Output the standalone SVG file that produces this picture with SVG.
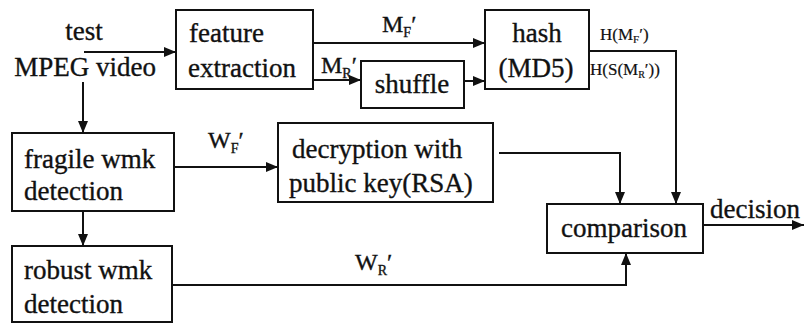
<svg xmlns="http://www.w3.org/2000/svg" width="804" height="324" viewBox="0 0 804 324">
  <style>
    .box { fill: #fff; stroke: #111; stroke-width: 2; }
    .line { fill: none; stroke: #111; stroke-width: 2; }
    text { font-family: "Liberation Serif", "Times New Roman", serif; fill: #111; stroke: #111; stroke-width: 0.35; }
    .t { font-size: 27px; }
    .lbl { font-size: 24px; }
    .sm { font-size: 17px; stroke-width: 0.2; }
    .sub { font-size: 14px; }
  </style>
  <defs>
    <marker id="arr" viewBox="0 0 12 10" refX="12" refY="5" markerWidth="12" markerHeight="10" markerUnits="userSpaceOnUse" orient="auto">
      <path d="M0,0 L12,5 L0,10 Z" fill="#111"/>
    </marker>
  </defs>

  <g id="input">
    <text class="t" x="84" y="40" text-anchor="middle">test</text>
    <text class="t" x="85" y="76" text-anchor="middle">MPEG video</text>
  </g>

  <g id="feature">
    <rect class="box" x="176" y="10" width="137" height="79"/>
    <text class="t" x="189" y="42">feature</text>
    <text class="t" x="188" y="77">extraction</text>
  </g>

  <g id="shuffle">
    <rect class="box" x="361" y="61" width="103" height="47"/>
    <text class="t" x="412" y="93" text-anchor="middle">shuffle</text>
  </g>

  <g id="hash">
    <rect class="box" x="485" y="10" width="104" height="79"/>
    <text class="t" x="537" y="42" text-anchor="middle">hash</text>
    <text class="t" x="536" y="77" text-anchor="middle">(MD5)</text>
  </g>

  <g id="fragile">
    <rect class="box" x="12" y="133" width="162" height="78"/>
    <text class="t" x="24" y="168">fragile wmk</text>
    <text class="t" x="24" y="200">detection</text>
  </g>

  <g id="robust">
    <rect class="box" x="12" y="246" width="160" height="76"/>
    <text class="t" x="24" y="279">robust wmk</text>
    <text class="t" x="24" y="313">detection</text>
  </g>

  <g id="decryption">
    <rect class="box" x="278" y="123" width="215" height="79"/>
    <text class="t" x="292" y="158">decryption with</text>
    <text class="t" x="289" y="192">public key(RSA)</text>
  </g>

  <g id="comparison">
    <rect class="box" x="547" y="204" width="156" height="49"/>
    <text class="t" x="624" y="237" text-anchor="middle">comparison</text>
  </g>

  <g id="connectors">
    <line class="line" x1="84" y1="52" x2="176" y2="52" marker-end="url(#arr)"/>
    <line class="line" x1="83" y1="82" x2="83" y2="133" marker-end="url(#arr)"/>
    <line class="line" x1="313" y1="43" x2="485" y2="43" marker-end="url(#arr)"/>
    <line class="line" x1="313" y1="80" x2="361" y2="80" marker-end="url(#arr)"/>
    <line class="line" x1="464" y1="81" x2="485" y2="81" marker-end="url(#arr)"/>
    <polyline class="line" points="589,51 676,51 676,204" marker-end="url(#arr)"/>
    <line class="line" x1="174" y1="167" x2="278" y2="167" marker-end="url(#arr)"/>
    <polyline class="line" points="499,153 620,153 620,204" marker-end="url(#arr)"/>
    <line class="line" x1="83" y1="211" x2="83" y2="246" marker-end="url(#arr)"/>
    <polyline class="line" points="172,285 626,285 626,253" marker-end="url(#arr)"/>
    <line class="line" x1="703" y1="225" x2="804" y2="225" marker-end="url(#arr)"/>

    <text class="lbl" x="382" y="32">M<tspan class="sub" dy="5">F</tspan><tspan dy="-5">′</tspan></text>
    <text class="lbl" x="321" y="73">M<tspan class="sub" dy="5">R</tspan><tspan dy="-5">′</tspan></text>
    <text class="lbl" x="208" y="148">W<tspan class="sub" dy="5">F</tspan><tspan dy="-5">′</tspan></text>
    <text class="lbl" x="355" y="270">W<tspan class="sub" dy="5">R</tspan><tspan dy="-5">′</tspan></text>
    <text class="sm" x="600" y="40">H(M<tspan font-size="11" dy="3">F</tspan><tspan dy="-3">′)</tspan></text>
    <text class="sm" x="590" y="75" font-size="15">H(S(M<tspan font-size="10" dy="3">R</tspan><tspan dy="-3">′))</tspan></text>
    <text class="t" x="710" y="218">decision</text>
  </g>
</svg>
